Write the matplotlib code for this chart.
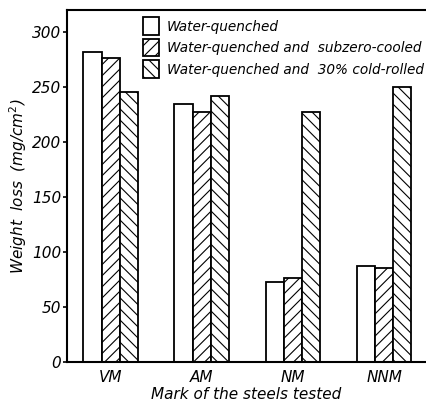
import matplotlib.pyplot as plt
import numpy as np

steels = ['VM', 'AM', 'NM', 'NNM']
water_quenched = [282, 234, 73, 87]
subzero_cooled = [276, 227, 76, 85]
cold_rolled = [245, 242, 227, 250]
series_labels = ['Water-quenched',
                 'Water-quenched and  subzero-cooled',
                 'Water-quenched and  30% cold-rolled']

plt.rcParams['hatch.linewidth'] = 0.8
fig = plt.figure(figsize=(4.26, 4.09), dpi=100)
ax = fig.add_axes([0.157, 0.115, 0.843, 0.861])

x = np.arange(len(steels))
w = 0.2
hatches = ['', '///', '\\\\\\']
for i, (vals, h, lab) in enumerate(zip([water_quenched, subzero_cooled, cold_rolled],
                                       hatches, series_labels)):
    ax.bar(x + (i - 1) * w, vals, w, color='white', edgecolor='black',
           hatch=h, linewidth=1.3, label=lab)

ax.set_xlim(-0.48, 3.46)
ax.set_ylim(0, 320)
ax.set_yticks([0, 50, 100, 150, 200, 250, 300])
ax.set_xticks(x)
ax.set_xticklabels(steels, fontstyle='italic', fontsize=11)
for t in ax.get_yticklabels():
    t.set_fontstyle('italic')
    t.set_fontsize(11)
ax.tick_params(axis='x', length=0, pad=6)
ax.tick_params(axis='y', length=3, width=1.2, pad=1)
ax.spines['right'].set_visible(False)
for s in ['left', 'bottom', 'top']:
    ax.spines[s].set_linewidth(1.5)

ax.set_ylabel('Weight  loss  (mg/cm$^2$)', fontstyle='italic', fontsize=11, labelpad=2)
ax.set_xlabel('Mark of the steels tested', fontstyle='italic', fontsize=11, labelpad=1)

leg = ax.legend(loc='upper left', bbox_to_anchor=(0.19, 1.0), frameon=False,
                prop={'style': 'italic', 'size': 9.8}, handlelength=1.2,
                handleheight=1.6, handletextpad=0.6, labelspacing=0.3,
                borderaxespad=0.15)

fig.savefig('out.png', dpi=100)
